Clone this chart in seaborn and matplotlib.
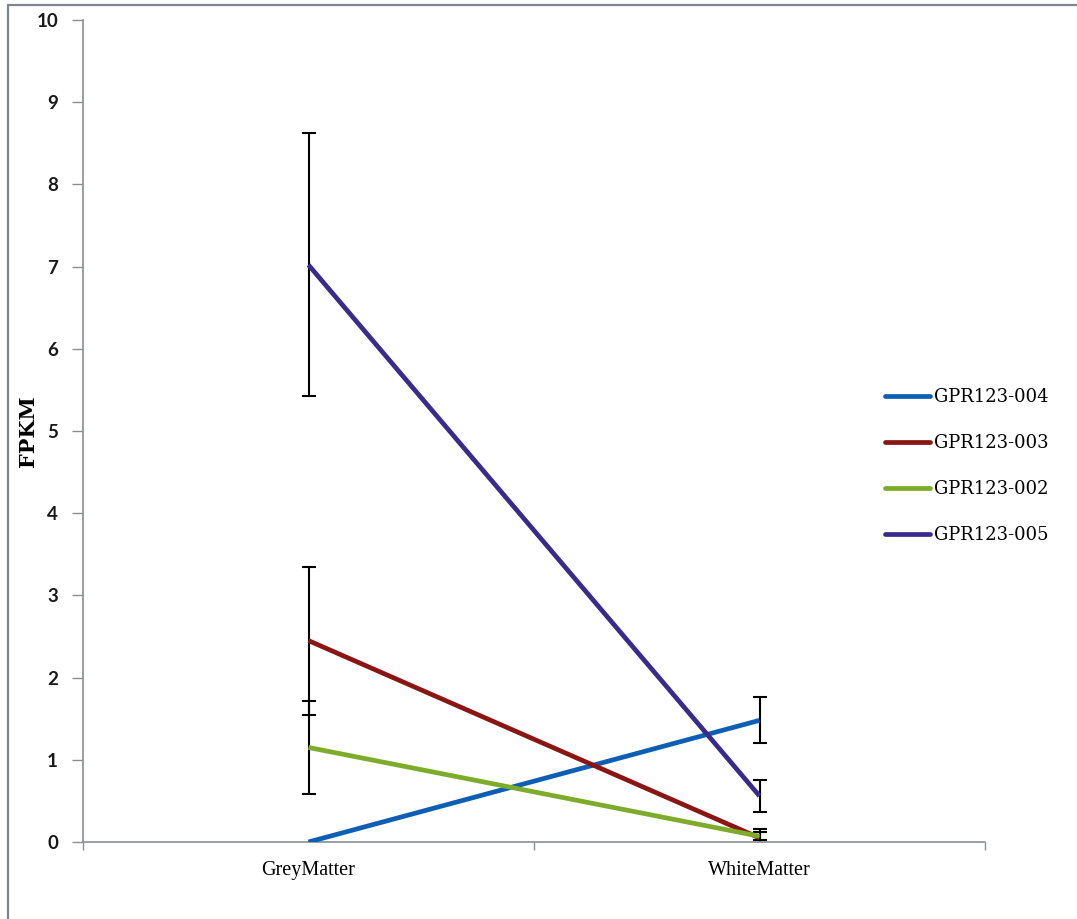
import matplotlib
matplotlib.use("Agg")
import matplotlib.pyplot as plt
from matplotlib.lines import Line2D
import seaborn as sns
import pandas as pd

# FPKM per transcript in grey and white matter, with error bar half-widths
tissues = ["GreyMatter", "WhiteMatter"]
transcripts = ["GPR123-004", "GPR123-003", "GPR123-002", "GPR123-005"]
fpkm = {
    "GPR123-004": [0.0, 1.48],
    "GPR123-003": [2.45, 0.05],
    "GPR123-002": [1.15, 0.07],
    "GPR123-005": [7.02, 0.56],
}
fpkm_err = {
    "GPR123-004": [0.0, 0.28],
    "GPR123-003": [0.90, 0.11],
    "GPR123-002": [0.57, 0.05],
    "GPR123-005": [1.60, 0.20],
}
colors = ["#0d5eb5", "#8b1512", "#7cac2a", "#3a2a8c"]
yticks = list(range(0, 11))

rows = []
for t in transcripts:
    for i, tissue in enumerate(tissues):
        rows.append({"Tissue": tissue, "Transcript": t,
                     "FPKM": fpkm[t][i], "err": fpkm_err[t][i]})
df = pd.DataFrame(rows)

sns.set_style("white")
serif = "Liberation Serif"
wide_serif = "DejaVu Serif"

fig = plt.figure(figsize=(10.77, 9.19), dpi=100)
ax = fig.add_axes([83 / 1077, 1 - 842 / 919, (985 - 83) / 1077, (842 - 20) / 919])

# Error bars sit beneath the lines
pos = {t: i for i, t in enumerate(tissues)}
for t in transcripts:
    sub = df[df["Transcript"] == t]
    xs = [pos[v] for v in sub["Tissue"]]
    mask = sub["err"].values > 0
    ax.errorbar([x for x, m in zip(xs, mask) if m], sub["FPKM"].values[mask],
                yerr=sub["err"].values[mask], fmt="none", ecolor="black",
                elinewidth=1.5, capsize=5, capthick=1.5, zorder=2)

sns.lineplot(data=df, x="Tissue", y="FPKM", hue="Transcript",
             hue_order=transcripts, palette=colors, linewidth=3.4,
             errorbar=None, ax=ax, legend=False, zorder=3)
for ln in ax.lines:
    ln.set_solid_capstyle("butt")

ax.set_xlim(-0.5, 1.5)
ax.set_ylim(0, 10)
ax.set_yticks(yticks)
ax.set_yticklabels([str(v) for v in yticks], fontfamily="Lato",
                   fontweight="bold", fontsize=13.5, color="#1a1a1a")
ax.set_xticks([-0.5, 0.5, 1.5])
ax.set_xticklabels([])
ax.set_xticks([0, 1], minor=True)
ax.set_xticklabels(tissues, minor=True, fontfamily=serif, fontsize=14.5,
                   color="black")
ax.tick_params(axis="x", which="minor", length=0, pad=14)
ax.tick_params(axis="x", which="major", direction="out", length=6,
               width=1, color="#8a8f94", bottom=True)
ax.tick_params(axis="y", direction="out", length=8, width=1,
               color="#8a8f94", left=True, pad=10)
ax.set_xlabel("")
ax.set_ylabel("FPKM", fontfamily=wide_serif, fontweight="bold", fontsize=15,
              color="black")
ax.yaxis.set_label_coords((38 - 83) / 902, 0.5)
for side in ["top", "right"]:
    ax.spines[side].set_visible(False)
for side in ["left", "bottom"]:
    ax.spines[side].set_color("#8a8f94")
    ax.spines[side].set_linewidth(1.2)

handles = [Line2D([0], [0], color=c, linewidth=3.4) for c in colors]
leg = fig.legend(handles, transcripts, loc="center left",
                 bbox_to_anchor=(885 / 1077, 1 - 466 / 919), frameon=False,
                 prop={"family": wide_serif, "size": 13}, handlelength=2.5,
                 handletextpad=0.2, labelspacing=1.55, borderpad=0,
                 borderaxespad=0)
for txt in leg.get_texts():
    txt.set_color("black")

# Outer frame lines along the top and left edges
fig.add_artist(Line2D([8 / 1077, 1.0], [1 - 5 / 919, 1 - 5 / 919],
                      transform=fig.transFigure, color="#7d8790", linewidth=1.6))
fig.add_artist(Line2D([8 / 1077, 8 / 1077], [0.0, 1 - 5 / 919],
                      transform=fig.transFigure, color="#7d8790", linewidth=1.6))

fig.savefig("out.png", dpi=100)
